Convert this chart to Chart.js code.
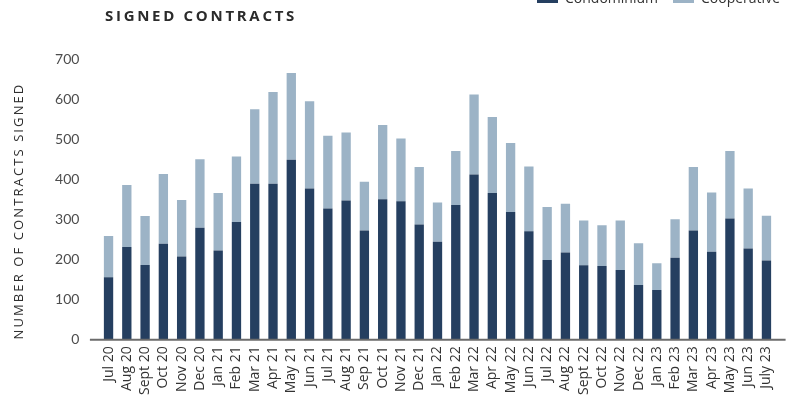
<!DOCTYPE html>
<html>
<head>
<meta charset="utf-8">
<script src="https://cdn.jsdelivr.net/npm/chart.js@4.4.0/dist/chart.umd.min.js"></script>
<style>
  html, body { margin: 0; padding: 0; background: #fff; }
  #wrap { position: relative; width: 795px; height: 403px; overflow: hidden; font-family: "Open Sans", sans-serif; }
  #c { position: absolute; left: 0; top: 0; }
  #title { position: absolute; left: 105px; top: 5px; font: bold 15px "Open Sans", sans-serif; letter-spacing: 2.7px; color: #2b2b2b; }
  #ytitle { position: absolute; left: -111px; top: 203px; width: 258px; height: 16px; line-height: 16px;
            text-align: center; transform: rotate(-90deg); font-size: 13px; letter-spacing: 2.1px; color: #2e2e2e; white-space: nowrap; }
  #legend { position: absolute; top: -12px; right: 15px; display: flex; font-size: 14px; color: #333; }
  #legend span.item { display: flex; align-items: center; margin-left: 15px; }
  #legend span.sw { display: inline-block; width: 21px; height: 9px; margin-right: 7px; position: relative; top: 1px; }
</style>
</head>
<body>
<div id="wrap">
  <canvas id="c" width="795" height="403"></canvas>
  <div id="title">SIGNED CONTRACTS</div>
  <div id="ytitle">NUMBER OF CONTRACTS SIGNED</div>
  <div id="legend"></div>
</div>
<script>
const labels = ['Jul 20', 'Aug 20', 'Sept 20', 'Oct 20', 'Nov 20', 'Dec 20',
  'Jan 21', 'Feb 21', 'Mar 21', 'Apr 21', 'May 21', 'Jun 21', 'Jul 21', 'Aug 21', 'Sep 21', 'Oct 21', 'Nov 21', 'Dec 21',
  'Jan 22', 'Feb 22', 'Mar 22', 'Apr 22', 'May 22', 'Jun 22', 'Jul 22', 'Aug 22', 'Sept 22', 'Oct 22', 'Nov 22', 'Dec 22',
  'Jan 23', 'Feb 23', 'Mar 23', 'Apr 23', 'May 23', 'Jun 23', 'July 23'];

const condominium = [155, 231, 186, 239, 207, 279,
  222, 293, 389, 389, 449, 377, 327, 347, 272, 350, 345, 287,
  244, 336, 412, 366, 318, 270, 198, 217, 185, 183, 173, 136,
  123, 204, 272, 219, 302, 227, 197];

const cooperative = [103, 155, 122, 174, 141, 171,
  144, 164, 186, 229, 217, 218, 182, 170, 122, 186, 157, 144,
  98, 135, 200, 190, 173, 162, 133, 122, 112, 102, 124, 104,
  67, 96, 159, 148, 169, 150, 112];

const yTicks = [0, 100, 200, 300, 400, 500, 600, 700];

const seriesNames = ['Condominium', 'Cooperative'];
const seriesColors = ['#253f60', '#9cb3c6'];

// legend (html)
const legend = document.getElementById('legend');
seriesNames.forEach((name, i) => {
  const item = document.createElement('span');
  item.className = 'item';
  item.innerHTML = '<span class="sw" style="background:' + seriesColors[i] + '"></span>' + name;
  legend.appendChild(item);
});

// x axis line, a bit wider than the plot area
const axisLine = {
  id: 'axisLine',
  afterDatasetsDraw(chart) {
    const {ctx, chartArea} = chart;
    ctx.save();
    ctx.strokeStyle = '#6b6b6b';
    ctx.lineWidth = 2;
    ctx.beginPath();
    ctx.moveTo(chartArea.left - 9.5, chartArea.bottom + 0.5);
    ctx.lineTo(chartArea.right + 10, chartArea.bottom + 0.5);
    ctx.stroke();
    ctx.restore();
  }
};

new Chart(document.getElementById('c'), {
  type: 'bar',
  data: {
    labels: labels,
    datasets: [
      { label: seriesNames[0], data: condominium, backgroundColor: seriesColors[0] },
      { label: seriesNames[1], data: cooperative, backgroundColor: seriesColors[1] }
    ]
  },
  options: {
    responsive: false,
    animation: false,
    events: [],
    layout: { padding: { top: 59.3, right: 19.4, bottom: 0, left: 0 } },
    datasets: { bar: { barPercentage: 0.51, categoryPercentage: 1 } },
    plugins: {
      legend: { display: false },
      title: { display: false },
      tooltip: { enabled: false }
    },
    scales: {
      x: {
        stacked: true,
        grid: { display: false, drawTicks: false },
        border: { display: false },
        ticks: {
          minRotation: 90, maxRotation: 90, autoSkip: false, padding: 7,
          color: '#333', font: { family: 'Open Sans', size: 14 }
        },
        afterFit(scale) { scale.height = 63.7; }
      },
      y: {
        stacked: true,
        min: 0, max: 700,
        afterBuildTicks(scale) { scale.ticks = yTicks.map(v => ({ value: v })); },
        grid: { display: false, drawTicks: false },
        border: { display: false },
        ticks: { padding: 20, color: '#4d4d4d', font: { family: 'Lato', size: 14 } },
        afterFit(scale) { scale.width = 99.4; }
      }
    }
  },
  plugins: [axisLine]
});
</script>
</body>
</html>
